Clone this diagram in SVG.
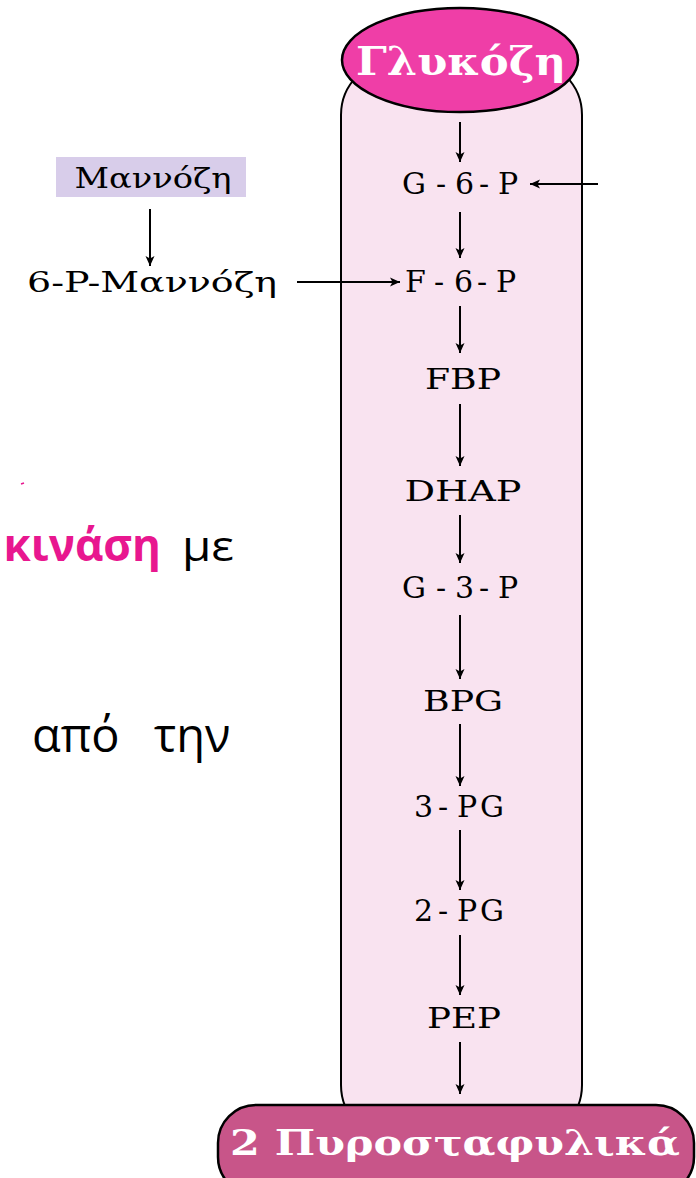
<svg xmlns="http://www.w3.org/2000/svg" width="696" height="1178" viewBox="0 0 696 1178">
<style>
.lbl{font-family:"DejaVu Serif","Liberation Serif",serif;font-size:28px;fill:#000}
.h{font-size:30px}
.c{text-anchor:middle}
.big{font-family:"DejaVu Serif","Liberation Serif",serif;font-weight:bold;fill:#fff;text-anchor:middle}
.ar{stroke:#000;stroke-width:2;fill:none;marker-end:url(#ah)}
.side{font-family:"Open Sans","Noto Sans",sans-serif}
</style>
<defs>
<marker id="ah" viewBox="0 0 10 10" refX="10" refY="5" markerWidth="10" markerHeight="10" markerUnits="userSpaceOnUse" orient="auto">
<path d="M0,0.5 L10,5 L0,9.5 L2.5,5 Z" fill="#000"/>
</marker>
</defs>
<g id="tube">
<rect x="341" y="60" width="241" height="1080" rx="55" ry="55" fill="#f9e3f0" stroke="#000" stroke-width="2"/>
</g>
<g id="glucose">
<ellipse cx="460" cy="60" rx="118" ry="52" fill="#ef3ea7" stroke="#000" stroke-width="2.5"/>
<text class="big" x="461" y="75" font-size="40" textLength="210" lengthAdjust="spacingAndGlyphs">Γλυκόζη</text>
</g>
<g id="pyruvate">
<rect x="218" y="1105" width="476" height="90" rx="38" ry="38" fill="#c85589" stroke="#000" stroke-width="2.5"/>
<text class="big" x="455" y="1155" font-size="36" textLength="450" lengthAdjust="spacingAndGlyphs">2 Πυροσταφυλικά</text>
</g>
<g id="mannose">
<rect x="56" y="157" width="190" height="40" fill="#d8cdea"/>
<text class="lbl c" x="153" y="188" font-size="25" textLength="157" lengthAdjust="spacingAndGlyphs">Μαννόζη</text>
</g>
<g id="p6mannose"><text class="lbl c" x="152" y="292" font-size="27" textLength="250" lengthAdjust="spacingAndGlyphs">6-P-Μαννόζη</text></g>
<g id="g6p"><text class="lbl h" x="402 436 455 479 498" y="194">G-6-P</text></g>
<g id="f6p"><text class="lbl h" x="405 434 454 477 496" y="292">F-6-P</text></g>
<g id="fbp"><text class="lbl c" x="463" y="389" textLength="76" lengthAdjust="spacingAndGlyphs">FBP</text></g>
<g id="dhap"><text class="lbl c" x="463" y="501" textLength="117" lengthAdjust="spacingAndGlyphs">DHAP</text></g>
<g id="g3p"><text class="lbl h" x="402 436 455 479 498" y="598">G-3-P</text></g>
<g id="bpg"><text class="lbl c" x="463" y="711" textLength="80" lengthAdjust="spacingAndGlyphs">BPG</text></g>
<g id="pg3"><text class="lbl h" x="414 438 457 480" y="817">3-PG</text></g>
<g id="pg2"><text class="lbl h" x="414 438 457 480" y="921">2-PG</text></g>
<g id="pep"><text class="lbl c" x="464" y="1028" textLength="74" lengthAdjust="spacingAndGlyphs">PEP</text></g>
<g id="connectors">
<line class="ar" x1="460" y1="122" x2="460" y2="162"/>
<line class="ar" x1="460" y1="212" x2="460" y2="258"/>
<line class="ar" x1="460" y1="306" x2="460" y2="353"/>
<line class="ar" x1="460" y1="404" x2="460" y2="466"/>
<line class="ar" x1="460" y1="515" x2="460" y2="563"/>
<line class="ar" x1="460" y1="615" x2="460" y2="679"/>
<line class="ar" x1="460" y1="724" x2="460" y2="786"/>
<line class="ar" x1="460" y1="830" x2="460" y2="890"/>
<line class="ar" x1="460" y1="935" x2="460" y2="995"/>
<line class="ar" x1="460" y1="1042" x2="460" y2="1094"/>
<line class="ar" x1="598" y1="184" x2="530" y2="184"/>
<line class="ar" x1="297" y1="282" x2="400" y2="282"/>
<line class="ar" x1="150" y1="209" x2="150" y2="266"/>
</g>
<g id="sidetext">
<path d="M21,484 L24,483" stroke="#e8178f" stroke-width="1.5"/>
<text class="side" x="161" y="561" font-size="44" text-anchor="end" font-weight="bold" fill="#e8178f">κινάση</text>
<text class="side" x="182" y="561" font-size="42" fill="#000" textLength="52" lengthAdjust="spacingAndGlyphs">με</text>
<text class="side" y="752" font-size="47" fill="#000"><tspan x="32">από</tspan> <tspan x="154">την</tspan></text>
</g>
</svg>
